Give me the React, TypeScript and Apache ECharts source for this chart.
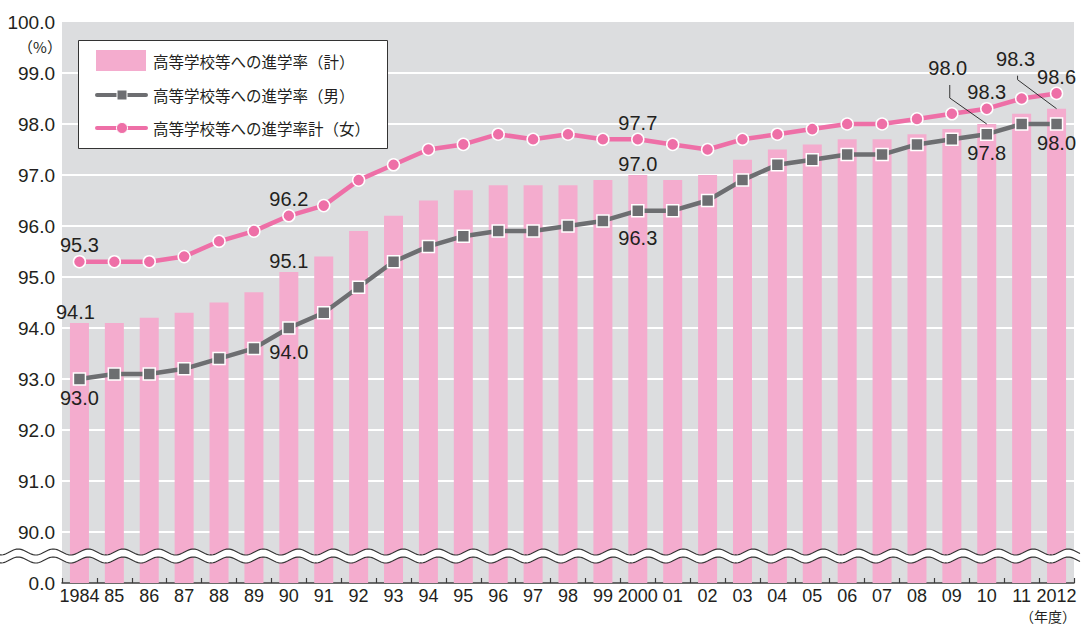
import React, { useEffect, useRef } from 'react';
import * as echarts from 'echarts';

const categories = ['1984', '85', '86', '87', '88', '89', '90', '91', '92', '93', '94', '95', '96', '97', '98', '99', '2000', '01', '02', '03', '04', '05', '06', '07', '08', '09', '10', '11', '2012'];
const totalRate = [94.1, 94.1, 94.2, 94.3, 94.5, 94.7, 95.1, 95.4, 95.9, 96.2, 96.5, 96.7, 96.8, 96.8, 96.8, 96.9, 97.0, 96.9, 97.0, 97.3, 97.5, 97.6, 97.7, 97.7, 97.8, 97.9, 98.0, 98.2, 98.3];
const maleRate = [93.0, 93.1, 93.1, 93.2, 93.4, 93.6, 94.0, 94.3, 94.8, 95.3, 95.6, 95.8, 95.9, 95.9, 96.0, 96.1, 96.3, 96.3, 96.5, 96.9, 97.2, 97.3, 97.4, 97.4, 97.6, 97.7, 97.8, 98.0, 98.0];
const femaleRate = [95.3, 95.3, 95.3, 95.4, 95.7, 95.9, 96.2, 96.4, 96.9, 97.2, 97.5, 97.6, 97.8, 97.7, 97.8, 97.7, 97.7, 97.6, 97.5, 97.7, 97.8, 97.9, 98.0, 98.0, 98.1, 98.2, 98.3, 98.5, 98.6];

const seriesNames = ['高等学校等への進学率（計）', '高等学校等への進学率（男）', '高等学校等への進学率計（女）'];
const yUnit = '（%）';
const xUnit = '（年度）';

// indices of labelled points
const totalLabelIdx = [0, 6, 16];
const totalLeaderIdx = [26, 28];
const maleLabelIdx = [0, 6, 16, 26, 28];
const femaleLabelIdx = [0, 6, 16, 26, 28];

// styling
const PINK_BAR = '#f4acce';
const PINK_LINE = '#ee6fa7';
const GRAY_LINE = '#6d6e71';
const TEXT = '#231f20';
const NUM_FONT = "'Liberation Sans', Arial, sans-serif";
const NARROW_FONT = "'Liberation Sans Narrow', 'Liberation Sans', Arial, sans-serif";
const JP_FONT = "'Noto Sans CJK JP', sans-serif";

const totalLeaderOffsets = [[-39, -45], [-41, -39]];
const maleDistances = [2, 7, 11, 2, 2];

function wave(c: number, amp: number, period: number, phase: number, x0: number, x1: number) {
  const pts: number[][] = [];
  for (let x = x0; x <= x1; x += 1.5) {
    pts.push([x, c + amp * Math.sin((2 * Math.PI * (x - phase)) / period)]);
  }
  return pts;
}

export default function App() {
  const ref = useRef<HTMLDivElement>(null);
  useEffect(() => {
    const chart = echarts.init(ref.current!, null, { renderer: 'svg' });

    const labelText = { fontSize: 20, fontFamily: NUM_FONT, color: TEXT };
    const fmt = (p: any) => Number(p.value).toFixed(1);

    const totalData = totalRate.map((v, i) => {
      const item: any = { value: v };
      if (totalLabelIdx.includes(i)) {
        item.label = { show: true, position: 'top', distance: 1, offset: [i === 0 ? -4 : 0, 0] };
      }
      const li = totalLeaderIdx.indexOf(i);
      if (li >= 0) {
        item.label = { show: true, position: 'top', distance: 1, offset: totalLeaderOffsets[li] };
      }
      return item;
    });
    const maleData = maleRate.map((v, i) => {
      const item: any = { value: v };
      const k = maleLabelIdx.indexOf(i);
      if (k >= 0) item.label = { show: true, position: 'bottom', distance: maleDistances[k] };
      return item;
    });
    const femaleData = femaleRate.map((v, i) => {
      const item: any = { value: v };
      if (femaleLabelIdx.includes(i)) item.label = { show: true, position: 'top', distance: 0 };
      return item;
    });

    const topWave = wave(552, 3, 35, 62, 0, 1081);
    const botWave = wave(560, 3, 35, 62, 0, 1081);
    const band = topWave.concat(botWave.slice().reverse());

    const Z = 100;
    const baseGraphics: any[] = [
      { id: 'band', type: 'polygon', z: Z, shape: { points: band }, style: { fill: '#ffffff' } },
      { id: 'w1', type: 'polyline', z: Z + 1, shape: { points: topWave }, style: { stroke: '#333', lineWidth: 1.2, fill: 'none' } },
      { id: 'w2', type: 'polyline', z: Z + 1, shape: { points: botWave }, style: { stroke: '#333', lineWidth: 1.2, fill: 'none' } },
      { id: 'unitY', type: 'text', x: 40, y: 46, z: Z, style: { text: yUnit, fontSize: 15, fontFamily: JP_FONT, fill: TEXT, align: 'center', verticalAlign: 'middle' } },
      { id: 'unitX', type: 'text', x: 1076, y: 616, z: Z, style: { text: xUnit, fontSize: 14, fontFamily: JP_FONT, fill: TEXT, align: 'right', verticalAlign: 'middle' } },
      { id: 'lgBox', type: 'rect', z: Z, shape: { x: 78.5, y: 40.5, width: 309, height: 108 }, style: { fill: '#fff', stroke: '#333', lineWidth: 1 } },
      { id: 'lgSw', type: 'rect', z: Z + 1, shape: { x: 96, y: 50, width: 50, height: 21 }, style: { fill: PINK_BAR } },
      { id: 'lgT0', type: 'text', z: Z + 1, x: 153, y: 61, style: { text: seriesNames[0], fontSize: 15.5, fontFamily: JP_FONT, fill: TEXT, verticalAlign: 'middle' } },
      { id: 'lgL1', type: 'line', z: Z + 1, shape: { x1: 97, y1: 95, x2: 146, y2: 95 }, style: { stroke: GRAY_LINE, lineWidth: 4, lineCap: 'round' } },
      { id: 'lgM1', type: 'rect', z: Z + 2, shape: { x: 117, y: 90, width: 10, height: 10 }, style: { fill: GRAY_LINE, stroke: '#fff', lineWidth: 1 } },
      { id: 'lgT1', type: 'text', z: Z + 1, x: 153, y: 95, style: { text: seriesNames[1], fontSize: 15.5, fontFamily: JP_FONT, fill: TEXT, verticalAlign: 'middle' } },
      { id: 'lgL2', type: 'line', z: Z + 1, shape: { x1: 97, y1: 128, x2: 146, y2: 128 }, style: { stroke: PINK_LINE, lineWidth: 4, lineCap: 'round' } },
      { id: 'lgM2', type: 'circle', z: Z + 2, shape: { cx: 122, cy: 128, r: 5.5 }, style: { fill: PINK_LINE, stroke: '#fff', lineWidth: 1 } },
      { id: 'lgT2', type: 'text', z: Z + 1, x: 153, y: 128, style: { text: seriesNames[2], fontSize: 15.5, fontFamily: JP_FONT, fill: TEXT, verticalAlign: 'middle' } },
    ];

    chart.setOption({
      animation: false,
      grid: { left: 62, right: 7, top: 22, bottom: 41, show: true, backgroundColor: '#dcdddf', borderWidth: 0 },
      xAxis: {
        type: 'category',
        data: categories,
        boundaryGap: true,
        axisLine: { lineStyle: { color: '#3c3c3c', width: 1.5 } },
        axisTick: { show: true, inside: true, length: 5, lineStyle: { color: '#3c3c3c', width: 1.2 } },
        axisLabel: { interval: 0, fontSize: 18, fontFamily: NARROW_FONT, color: TEXT, margin: 4 },
      },
      yAxis: {
        type: 'value',
        min: 89,
        max: 100,
        interval: 1,
        axisLine: { show: false },
        axisTick: { show: false },
        splitLine: { show: true, showMaxLine: false, showMinLine: false, lineStyle: { color: '#ffffff', width: 2 } },
        axisLabel: {
          fontSize: 19,
          fontFamily: NUM_FONT,
          color: TEXT,
          margin: 7,
          formatter: (v: number) => (v === 89 ? '0.0' : v.toFixed(1)),
        },
      },
      series: [
        {
          name: seriesNames[0],
          type: 'bar',
          data: totalData,
          barWidth: 19,
          itemStyle: { color: PINK_BAR },
          label: { show: false, ...labelText, formatter: fmt },
          z: 2,
        },
        {
          name: seriesNames[1],
          type: 'line',
          data: maleData,
          symbol: 'rect',
          symbolSize: 12,
          lineStyle: { color: GRAY_LINE, width: 4.5 },
          itemStyle: { color: GRAY_LINE, borderColor: '#fff', borderWidth: 1.5 },
          label: { show: false, ...labelText, formatter: fmt },
          z: 3,
        },
        {
          name: seriesNames[2],
          type: 'line',
          data: femaleData,
          symbol: 'circle',
          symbolSize: 12,
          lineStyle: { color: PINK_LINE, width: 4.5 },
          itemStyle: { color: PINK_LINE, borderColor: '#fff', borderWidth: 1.5 },
          label: { show: false, ...labelText, formatter: fmt },
          z: 4,
        },
      ],
      graphic: baseGraphics,
    });

    // leader lines from the two annotated bar tops
    const leaders: any[] = totalLeaderIdx.map((idx, k) => {
      const p = chart.convertToPixel({ xAxisIndex: 0, yAxisIndex: 0 }, [idx, totalRate[idx]]) as number[];
      const off = totalLeaderOffsets[k];
      const lx = p[0] + off[0] + 2;
      const topY = p[1] + off[1] + 6;
      const kneeY = k === 0 ? p[1] - 26 : p[1] - 29;
      return {
        id: 'leader' + k,
        type: 'polyline',
        z: 50,
        shape: { points: [[lx, topY], [lx, kneeY], [p[0], p[1]]] },
        style: { stroke: '#333', lineWidth: 1, fill: 'none' },
      };
    });
    chart.setOption({ graphic: baseGraphics.concat(leaders) });

    return () => chart.dispose();
  }, []);
  return <div ref={ref} style={{ position: 'absolute', left: 0, top: 0, width: 1081, height: 624 }} />;
}
